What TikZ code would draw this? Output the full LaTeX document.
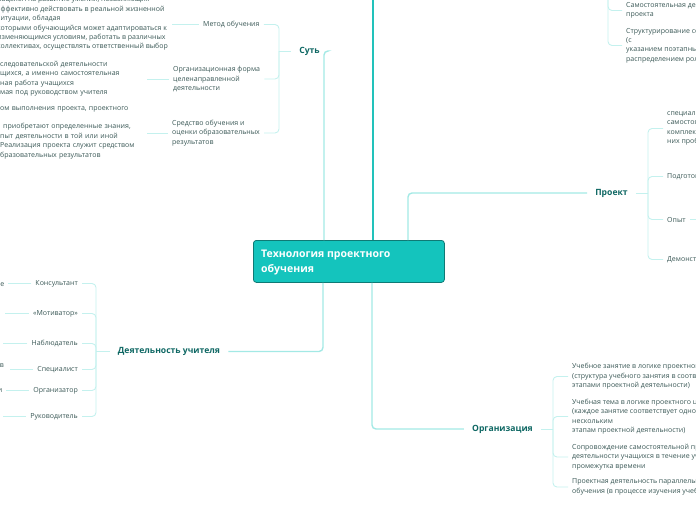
\documentclass[tikz,border=0pt]{standalone}
\usepackage{fontspec}
\setmainfont{Open Sans}
\definecolor{cfill}{HTML}{14C4BD}
\definecolor{cborder}{HTML}{0F7A75}
\definecolor{tcon}{HTML}{22C2BB}
\definecolor{mcon}{HTML}{A3E9E5}
\definecolor{lcon}{HTML}{C4F1EE}
\definecolor{btxt}{HTML}{0E6763}
\definecolor{ctxt}{HTML}{3A5856}
\begin{document}
\begin{tikzpicture}[x=1pt,y=-1pt,
  centralbox/.style={fill=cfill, draw=cborder, line width=0.8pt, rounded corners=3pt,
    inner sep=0pt, minimum width=191pt, minimum height=42pt},
  ctitle/.style={font=\fontsize{10.5}{15}\selectfont\bfseries, text=white, align=left, inner sep=0pt},
  ctext/.style={font=\fontsize{7}{9.4}\selectfont, text=ctxt, align=left, inner xsep=4pt, inner ysep=0pt, yshift=-1.5pt},
  ctextr/.style={ctext, align=right},
  frag/.style={font=\fontsize{7}{9.4}\selectfont, text=ctxt, inner sep=0pt, yshift=-1.5pt},
  blabel/.style={font=\fontsize{8.6}{10}\selectfont\bfseries, text=btxt, inner xsep=8pt, inner ysep=1pt, yshift=-1pt},
  conn/.style={draw=lcon, line width=0.9pt, rounded corners=4pt},
  mconn/.style={draw=mcon, line width=1.4pt, rounded corners=4pt},
  trunk/.style={draw=tcon, line width=2pt},
]
\useasboundingbox (0,0) rectangle (696,520);
\clip (0,0) rectangle (696,520);

% central node
\node[centralbox, anchor=north west] (c) at (253,240) {};
\node[ctitle, anchor=west] (ct) at (261,263) {Технология проектного\\обучения};

% branch labels
\node[blabel] (sut) at (309.5,50) {Суть};
\node[blabel] (proj) at (611.5,192) {Проект};
\node[blabel] (deyat) at (169,350.5) {Деятельность учителя};
\node[blabel] (org) at (502.5,428) {Организация};

% central connectors
\coordinate (toproot) at (373,-20);
\coordinate (sutx) at (324,0);
\coordinate (projx) at (408,0);
\coordinate (deyx) at (323,0);
\coordinate (orgx) at (372,0);
\draw[trunk] (toproot |- c.north) -- (toproot);
\draw[mconn] (sutx |- c.north) |- (sut.east);
\draw[mconn] (projx |- c.north) |- (proj.west);
\draw[mconn] (deyx |- c.south) |- (deyat.east);
\draw[mconn] (orgx |- c.south) |- (org.west);

% ---------- Суть ----------
\coordinate (sutb) at (279,51);
\draw[conn] (sut.west) -- (sutb);
\node[ctext, anchor=west] (metod) at (199,23) {Метод обучения};
\node[ctext, anchor=west] (orgf) at (169,77.5) {Организационная форма\\целенаправленной\\деятельности};
\node[ctext, anchor=west] (sred) at (168,131.5) {Средство обучения и\\оценки образовательных\\результатов};
\draw[conn] (sutb) |- (metod.east);
\draw[conn] (sutb) |- (orgf.east);
\draw[conn] (sutb) |- (sred.east);

\node[ctext, anchor=west] (b1) at (-7,22) {нацелен на развитие умений, позволяющих\\эффективно действовать в реальной жизненной\\ситуации, обладая\\которыми обучающийся может адаптироваться к\\изменяющимся условиям, работать в различных\\коллективах, осуществлять ответственный выбор};
\draw[conn] (metod.west) -- (metod.west -| b1.east);

\node[ctext, anchor=west, text width=143pt] (b2) at (-4,77) {следовательской деятельности\\щихся, а именно самостоятельная\\ная работа учащихся\\мая под руководством учителя};
\draw[conn] (orgf.west) -- (orgf.west -| b2.east);

\node[ctext, anchor=west, text width=143pt] (b3) at (-4,131) {ом выполнения проекта, проектного\\\mbox{}\\\hspace{3pt}приобретают определенные знания,\\пыт деятельности в той или иной\\Реализация проекта служит средством\\бразовательных результатов};
\draw[conn] (sred.west) -- (sred.west -| b3.east);

% ---------- top right (branch from above) ----------
\coordinate (tbr) at (608,-20);
\node[ctext, anchor=west] (t1) at (622,9) {Самостоятельная деятельность\\проекта};
\node[ctext, anchor=west] (t2) at (622,44) {Структурирование содержания\\(с\\указанием поэтапных результатов\\распределением ролей};
\draw[conn] (tbr) |- (t1.west);
\draw[conn] (tbr) |- (t2.west);

% ---------- Проект ----------
\coordinate (pbr) at (648,193);
\draw[conn] (proj.east) -- (pbr);
\node[ctext, anchor=west] (p1) at (663,127) {специально\\самостоятельно\\комплексный\\них проблем};
\node[ctext, anchor=west] (p2) at (663,175) {Подготовка};
\node[ctext, anchor=west] (p3) at (663,218) {Опыт};
\node[ctext, anchor=west] (p4) at (663,258) {Демонстрация};
\draw[conn] (pbr) |- (p1.west);
\draw[conn] (pbr) |- (p2.west);
\draw[conn] (pbr) |- (p3.west);
\draw[conn] (pbr) |- (p4.west);
\coordinate (p3r) at (710,219.5);
\draw[conn] (p3.east) -- (p3r);

% ---------- Деятельность учителя ----------
\coordinate (dbr) at (96,351.5);
\draw[conn] (deyat.west) -- (dbr);
\node[ctextr, anchor=east] (kons) at (82,282) {Консультант};
\node[ctextr, anchor=east] (motiv) at (82,312) {«Мотиватор»};
\node[ctextr, anchor=east] (nabl) at (82,342) {Наблюдатель};
\node[ctextr, anchor=east] (spec) at (82,368) {Специалист};
\node[ctextr, anchor=east] (orgz) at (82,389) {Организатор};
\node[ctextr, anchor=east] (ruk) at (82,415) {Руководитель};
\foreach \n in {kons,motiv,nabl,spec,orgz,ruk}
  \draw[conn] (dbr) |- (\n.east);

\node[frag, anchor=east] (f1) at (4.5,283.5) {е};
\node[frag, anchor=east] (f2) at (4,364) {в};
\node[frag, anchor=east] (f3) at (2.5,389) {и};
\coordinate (kl) at (8,283.5);
\coordinate (ml) at (5,313.5);
\coordinate (nl) at (3,343.5);
\coordinate (sl) at (10,369.5);
\coordinate (ol) at (6,390.5);
\coordinate (rl) at (3,416.5);
\draw[conn] (kons.west) -- (kl);
\draw[conn] (motiv.west) -- (ml);
\draw[conn] (nabl.west) -- (nl);
\draw[conn] (spec.west) -- (sl);
\draw[conn] (orgz.west) -- (ol);
\draw[conn] (ruk.west) -- (rl);

% ---------- Организация ----------
\coordinate (obr) at (553,429);
\draw[conn] (org.east) -- (obr);
\node[ctext, anchor=west] (o1) at (568,375) {Учебное занятие в логике проектной деятельности\\(структура учебного занятия в соответствии с\\этапами проектной деятельности)};
\node[ctext, anchor=west] (o2) at (568,415) {Учебная тема в логике проектного цикла\\(каждое занятие соответствует одному или\\нескольким\\этапам проектной деятельности)};
\node[ctext, anchor=west] (o3) at (568,455.5) {Сопровождение самостоятельной проектной\\деятельности учащихся в течение учебного\\промежутка времени};
\node[ctext, anchor=west] (o4) at (568,485.5) {Проектная деятельность параллельно процессу\\обучения (в процессе изучения учебной темы)};
\draw[conn] (obr) |- (o1.west);
\draw[conn] (obr) |- (o2.west);
\draw[conn] (obr) |- (o3.west);
\draw[conn] (obr) |- (o4.west);
\end{tikzpicture}
\end{document}
